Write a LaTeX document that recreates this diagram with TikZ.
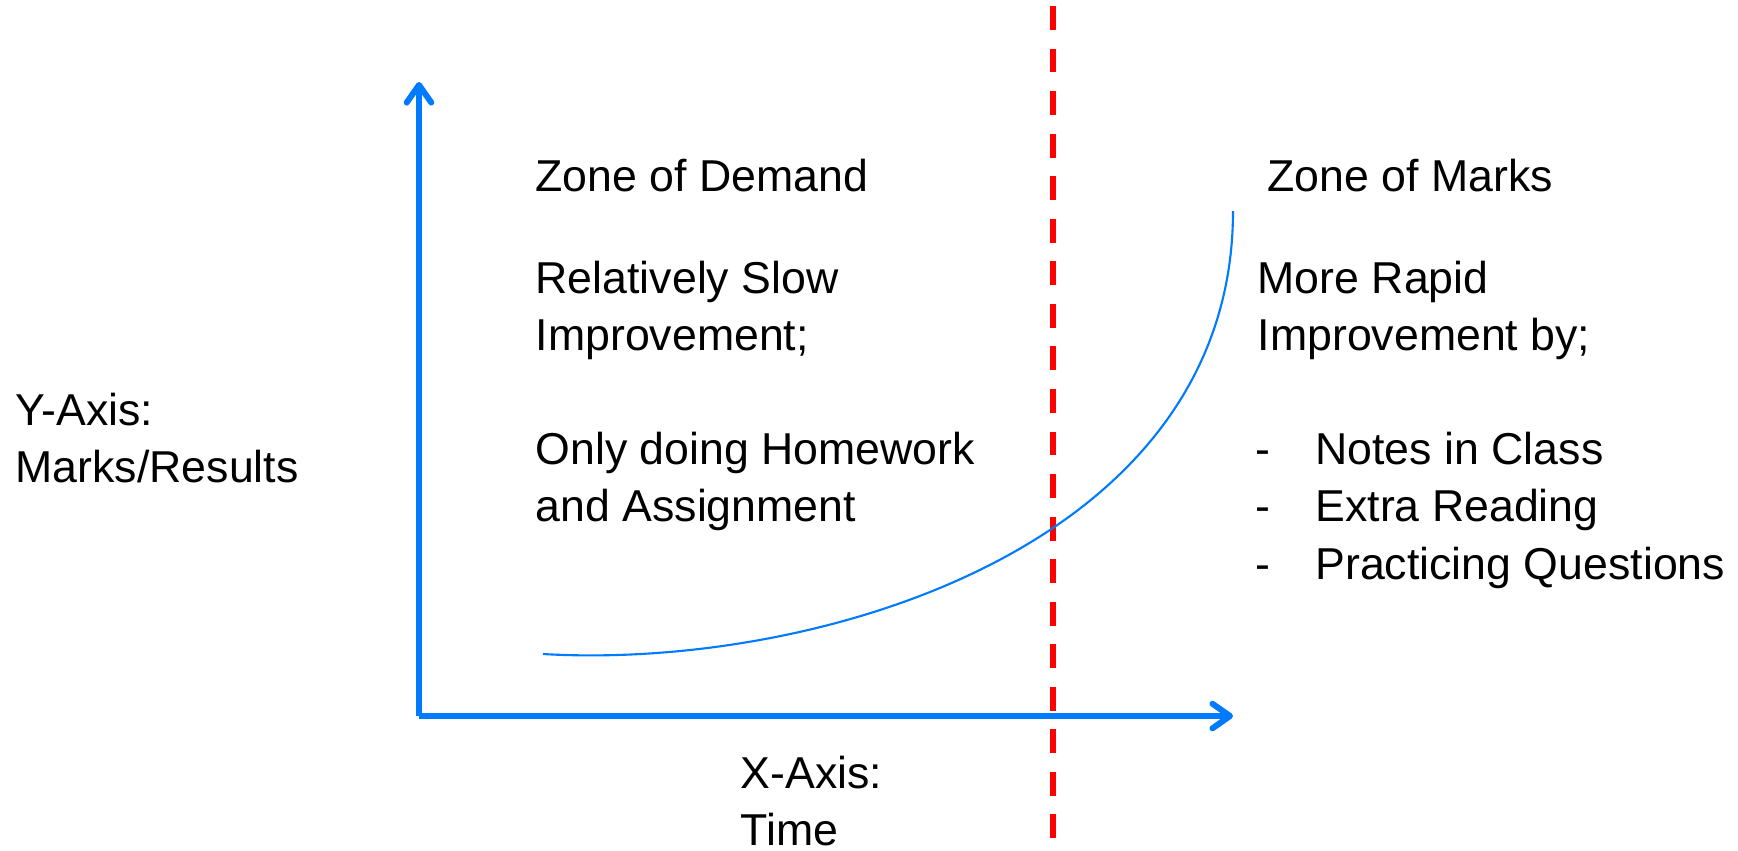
\documentclass[tikz,border=0pt]{standalone}
\usepackage{fontspec}
\setmainfont{Liberation Sans}
\usepackage{xcolor}
\usetikzlibrary{arrows.meta,positioning}
\definecolor{axisblue}{RGB}{0,122,255}
\definecolor{zonered}{RGB}{255,0,0}
\tikzset{
  axis line/.style={
    draw=axisblue,
    line width=1.7pt,
    ->,
  },
  growth curve/.style={
    draw=axisblue,
    line width=0.6pt,
  },
  zone border/.style={
    draw=zonered,
    line width=1.7pt,
    dash pattern=on 6.8pt off 5.3pt,
  },
}

\begin{document}
\begin{tikzpicture}[
            x = 0.01cm, % one unit = one pixel
            y = -0.01cm, % pixels counted downwards
            >= {Straight Barb[length=5pt,width=7pt,round]}, % arrow head style
        ]

        \tikzstyle{every node}=[
            anchor = north west,
            inner sep = 0pt,
            align = left,
            font = \fontsize{12.7}{16.4}\selectfont
        ]

        \useasboundingbox (0,0) rectangle (1738,850);

        % axes
        \coordinate (o) at (419,716);
        \coordinate (ytip) at (419,82);
        \coordinate (xtip) at (1233,716);
        \draw[axis line] (o) -- (ytip);
        \draw[axis line] (o) -- (xtip);

        % border between the two zones
        \coordinate (top) at (1053,6);
        \coordinate (bot) at (1053,850);
        \path[zone border] (top) -- (bot);

        % marks over time
        \coordinate (c0) at (543,654);
        \coordinate (c1) at (1233,211);
        \draw[growth curve] (c0) .. controls (815,670) and (1233,548) .. (c1);

        \node (ylab) at (15,392) {Y-Axis:\\Marks/Results};
        \node (xlab) at (740,755) {X-Axis:\\Time};

        \node (demand) at (535,158) {Zone of Demand};
        \node (slow) at (535,260) {Relatively Slow\\Improvement;};
        \node (hw) at (535,431) {Only doing Homework\\and Assignment};

        \node (marks) at (1267,158) {Zone of Marks};
        \node (rapid) at (1257,260) {More Rapid\\Improvement by;};
        \node (ways) at (1255,431) {\makebox[17pt][l]{-}Notes in Class\\
            \makebox[17pt][l]{-}Extra Reading\\
            \makebox[17pt][l]{-}Practicing Questions};

    \end{tikzpicture}
\end{document}
